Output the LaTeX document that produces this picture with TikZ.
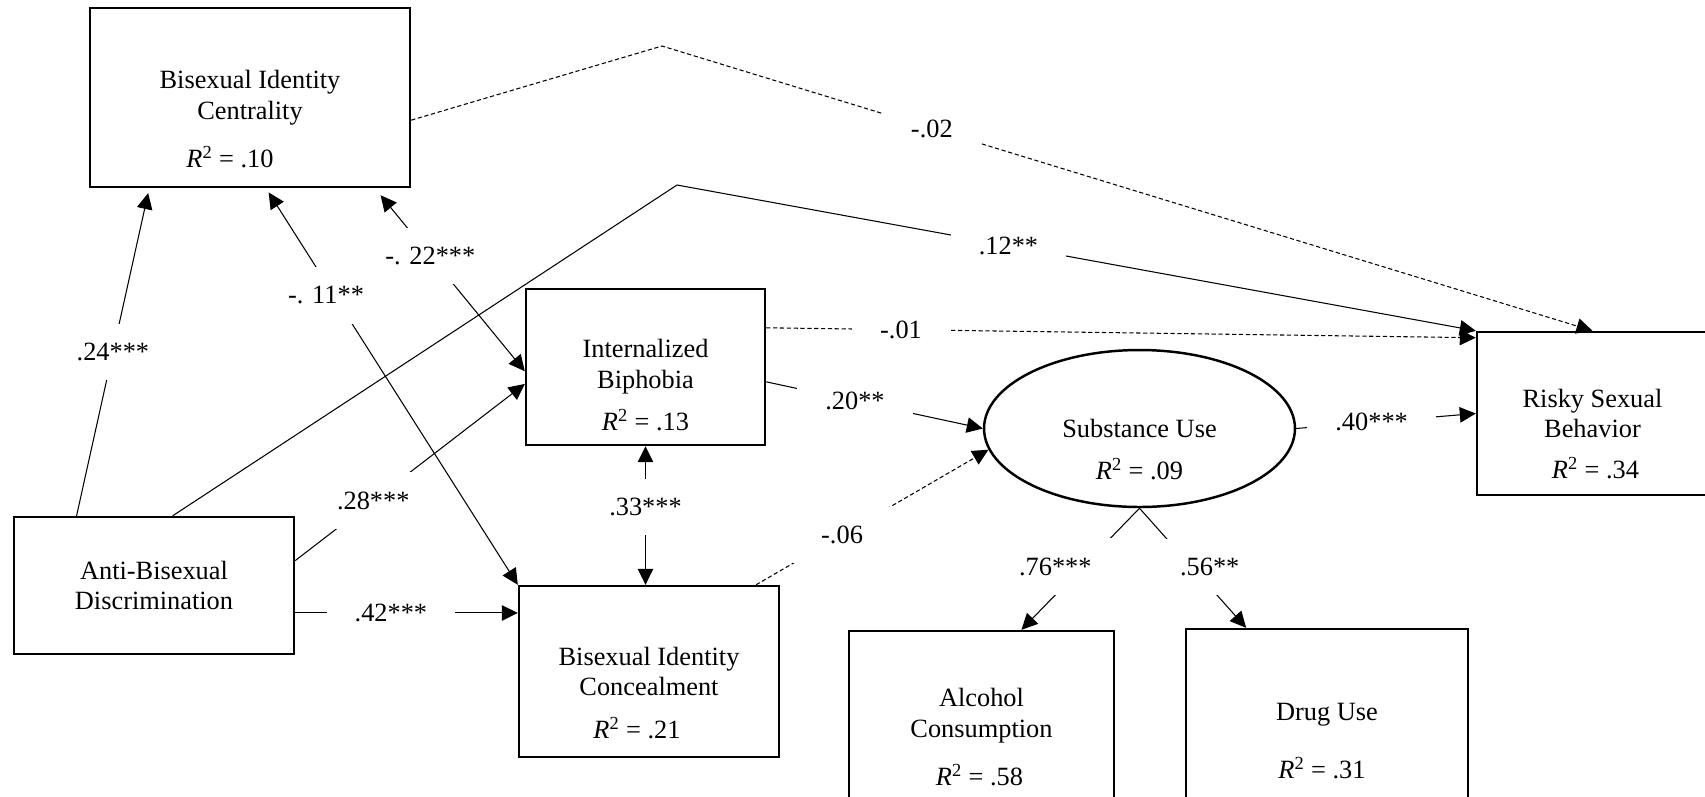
\documentclass[tikz,border=0pt]{standalone}
\usepackage{fontspec}
\setmainfont{Liberation Serif}
\usetikzlibrary{arrows.meta,positioning,shapes.geometric,calc}

\newcommand{\rsq}[1]{\textit{R}\textsuperscript{2} = #1}

\begin{document}
\begin{tikzpicture}[
  x=0.02cm, y=-0.02cm,
  every node/.style={font=\fontsize{15}{17.6}\selectfont},
  observed/.style={
    draw,
    line width=1.4pt,
    inner sep=0pt,
    align=center
  },
  latent/.style={observed,ellipse},
  rsquare/.style={inner sep=0pt},
  effect/.style={-{Triangle[length=3.2mm,width=3.1mm]},line width=0.6pt},
  covar/.style={{Triangle[length=3.2mm,width=3.1mm]}-{Triangle[length=3.2mm,width=3.1mm]},line width=0.6pt},
  ns/.style={dash pattern=on 2.4pt off 1.5pt},
  coef/.style={fill=white,inner xsep=16pt,inner ysep=11pt}
]
  \useasboundingbox (0,0) rectangle (1705,796);

  % variables
  \node[observed,minimum width=6.4cm,minimum height=3.58cm] (cent) at (250,97.5) {Bisexual Identity\\Centrality};
  \node[observed,minimum width=5.6cm,minimum height=2.74cm] (anti) at (154,585.5) {Anti-Bisexual\\Discrimination};
  \node[observed,minimum width=4.78cm,minimum height=3.12cm] (biph) at (645.5,367) {Internalized\\Biphobia};
  \node[observed,minimum width=5.2cm,minimum height=3.42cm] (conc) at (649,671.5) {Bisexual Identity\\Concealment};
  \node[latent,minimum width=6.22cm,minimum height=3.14cm] (subst) at (1139.5,428.5) {Substance Use};
  \node[observed,minimum width=4.62cm,minimum height=3.26cm] (risky) at (1592.5,413.5) {Risky Sexual\\Behavior};
  \node[observed,minimum width=5.3cm,minimum height=3.38cm] (alc) at (981.5,715.5) {Alcohol\\Consumption};
  \node[observed,minimum width=5.64cm,minimum height=3.42cm] (drug) at (1327,714.5) {Drug Use};

  % explained variance
  \node[rsquare] (centr2) at ([shift={(-20,59.5)}]cent.center) {\rsq{.10}};
  \node[rsquare] (biphr2) at ([shift={(0,53)}]biph.center) {\rsq{.13}};
  \node[rsquare] (concr2) at ([shift={(-12,56.5)}]conc.center) {\rsq{.21}};
  \node[rsquare] (substr2) at ([shift={(0,40.5)}]subst.center) {\rsq{.09}};
  \node[rsquare] (riskyr2) at ([shift={(3,54.5)}]risky.center) {\rsq{.34}};
  \node[rsquare] (alcr2) at ([shift={(-2,59.5)}]alc.center) {\rsq{.58}};
  \node[rsquare] (drugr2) at ([shift={(-5,53.5)}]drug.center) {\rsq{.31}};

  \coordinate (bend02) at (662,46);
  \coordinate (bend12) at (677,185);

  % paths
  \draw[effect,shorten >=1mm] (anti.138) -- node[coef,pos=0.5] {.24***} (cent.-138);
  \draw[effect] (anti.75) -- (bend12) -- node[coef,pos=0.415] {.12**} (risky.north west);
  \draw[effect] (anti.10) -- node[coef,pos=0.34] {.28***} (biph.-172);
  \draw[effect] (anti.-11) -- node[coef,pos=0.43] {.42***} (anti.-11 -| conc.west);
  \draw[covar,shorten <=1.8mm] (cent.-36) -- node[coef,pos=0.37] {-. 22***} (biph.-178);
  \draw[covar,shorten <=1mm] (cent.-80) -- node[coef,pos=0.27,xshift=-0.16cm] {-. 11**} (conc.north west);
  \draw[covar] (biph.south) -- node[coef,pos=0.44] {.33***} (biph.south |- conc.north);
  \draw[effect,ns] (cent.-8) -- (bend02) -- node[coef,pos=0.29] {-.02} (risky.north);
  \draw[effect,ns] (biph.18) -- node[coef,pos=0.19] {-.01} (risky.147);
  \draw[effect] (biph.-7) -- node[coef,pos=0.41] {.20**} (subst.west);
  \draw[effect,ns] (conc.39) -- node[coef,pos=0.37] {-.06} (subst.-172);
  \draw[effect] (subst.east) -- node[coef,pos=0.42] {.40***} (risky.west);
  \draw[effect] (subst.south) -- node[coef,pos=0.48,xshift=-0.55cm] {.76***} (alc.65);
  \draw[effect] (subst.south) -- node[coef,pos=0.49,xshift=0.36cm] {.56**} (drug.133);
\end{tikzpicture}
\end{document}
